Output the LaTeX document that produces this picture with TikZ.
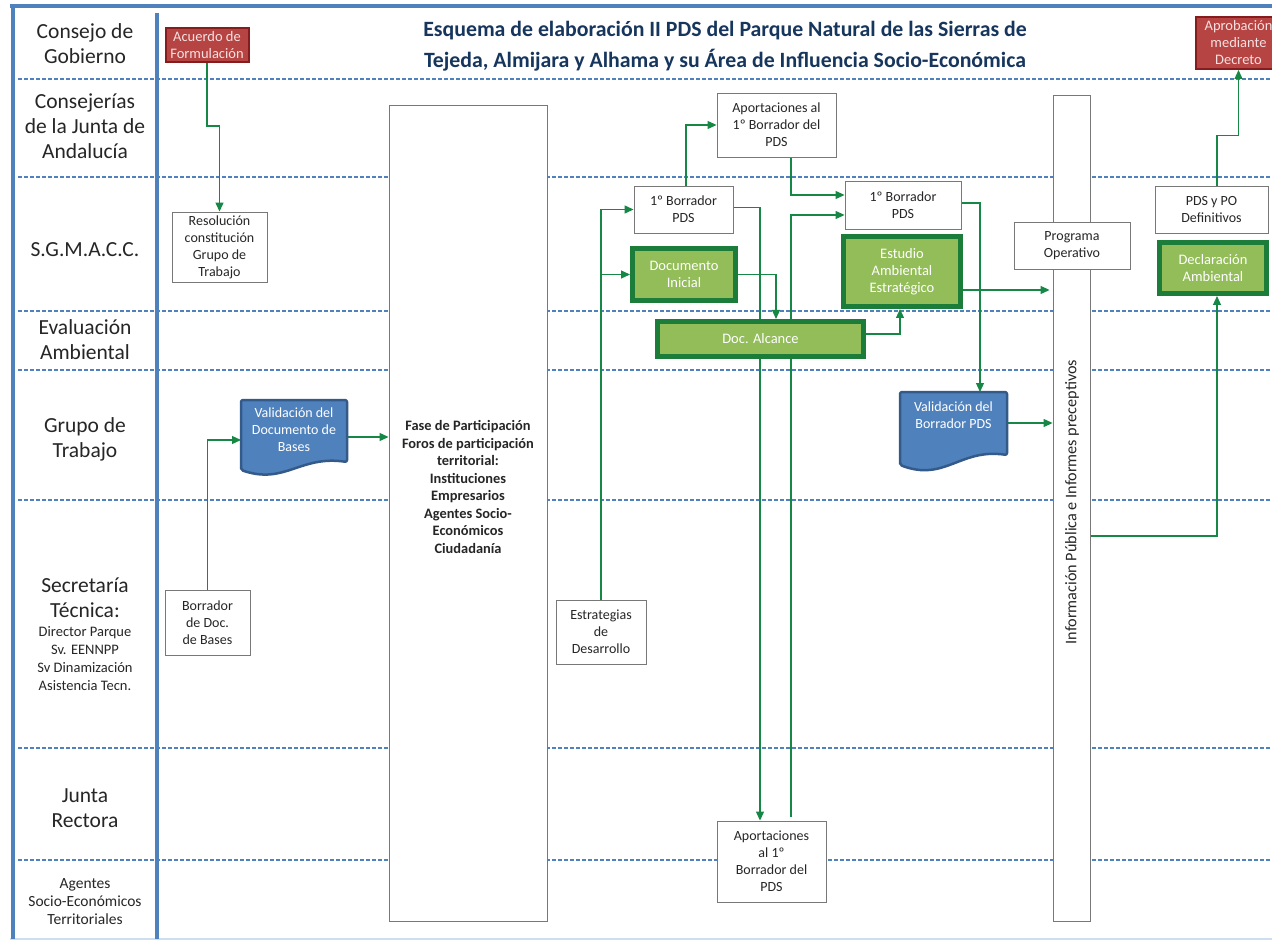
\documentclass[tikz,border=0pt]{standalone}
\usepackage{fontspec}
\setmainfont{Carlito}
\usetikzlibrary{arrows.meta,calc}
\pgfdeclarelayer{bg}\pgfdeclarelayer{lines}\pgfdeclarelayer{docs}
\pgfsetlayers{bg,lines,docs,main}
\definecolor{laneblue}{RGB}{79,129,189}
\definecolor{lightblue}{RGB}{205,222,240}
\definecolor{boxgray}{RGB}{120,120,120}
\definecolor{txtgray}{RGB}{38,38,38}
\definecolor{lgreen}{RGB}{22,135,68}
\definecolor{gborder}{RGB}{28,125,58}
\definecolor{gfill}{RGB}{146,189,88}
\definecolor{rfill}{RGB}{182,68,66}
\definecolor{rborder}{RGB}{135,28,30}
\definecolor{rtext}{RGB}{245,225,225}
\definecolor{docfill}{RGB}{79,129,189}
\definecolor{docborder}{RGB}{52,90,138}
\definecolor{titlecol}{RGB}{23,54,93}
\begin{document}
\begin{tikzpicture}[x=1pt,y=-1pt,
  box/.style={draw=boxgray, fill=white, line width=0.9pt, align=center, text=txtgray,
    font=\fontsize{14}{17}\selectfont, inner sep=2pt},
  greenbox/.style={draw=gborder, fill=gfill, line width=5pt, align=center, text=white,
    font=\fontsize{14.5}{17}\selectfont, inner sep=1pt},
  redbox/.style={draw=rborder, fill=rfill, line width=2pt, align=center, text=rtext,
    font=\fontsize{14.5}{17}\selectfont, inner sep=1pt},
  doctxt/.style={align=center, text=white, font=\fontsize{14}{17}\selectfont},
  docshape/.style={draw=docborder, fill=docfill, line width=2.5pt, rounded corners=2pt, line join=round},
  conn/.style={draw=lgreen, line width=1.2pt, -{Triangle[length=9pt,width=8pt]}},
  lane/.style={align=center, text=txtgray, font=\fontsize{21.5}{25}\selectfont},
  lanesmall/.style={align=center, text=txtgray, font=\fontsize{14.5}{18}\selectfont},
  dashl/.style={draw=laneblue, line width=1.2pt, dash pattern=on 4pt off 2pt},
  frame/.style={draw=laneblue, line width=4pt},
  titlestyle/.style={align=center, text=titlecol, font=\fontsize{21.8}{31}\selectfont\bfseries}
]
\useasboundingbox (0,0) rectangle (1272,941);

\begin{pgfonlayer}{bg}
  \fill[white] (0,0) rectangle (1272,941);
  \foreach \yy in {79,177,311,370,500,748,860}
    \draw[dashl] (18,\yy) -- (1272,\yy);
  \draw[draw=lightblue, line width=2pt] (10,939) -- (1272,939);
  \draw[frame] (10,6) -- (1272,6);
  \draw[frame] (13,4) -- (13,939);
  \draw[frame] (157,13) -- (157,939);
\end{pgfonlayer}

% lane labels
\node[lane] (l1) at (85,44) {Consejo de\\Gobierno};
\node[lane] (l2) at (85,126) {Consejerías\\de la Junta de\\Andalucía};
\node[lane] (l3) at (85,250) {S.G.M.A.C.C.};
\node[lane] (l4) at (85,340) {Evaluación\\Ambiental};
\node[lane] (l5) at (85,439) {Grupo de\\Trabajo};
\node[lane] (l6) at (85,598) {Secretaría\\Técnica:};
\node[lanesmall] (l6b) at (85,659) {Director Parque\\Sv. EENNPP\\Sv Dinamización\\Asistencia Tecn.};
\node[lane] (l7) at (85,808) {Junta\\Rectora};
\node[lanesmall, font=\fontsize{15.5}{18}\selectfont] (l8) at (85,902) {Agentes\\Socio-Económicos\\Territoriales};

% title
\node[titlestyle] (title) at (725,46) {Esquema de elaboración II PDS del Parque Natural de las Sierras de\\Tejeda, Almijara y Alhama y su Área de Influencia Socio-Económica};

% tall boxes
\node[box, minimum width=158pt, minimum height=816pt] (fase) at (468,513) {};
\node[align=center, text=txtgray, font=\fontsize{14.4}{17.5}\selectfont\bfseries] (fasetxt) at (468,487)
  {Fase de Participación\\Foros de participación\\territorial:\\Instituciones\\Empresarios\\Agentes Socio-\\Económicos\\Ciudadanía};
\node[box, minimum width=37pt, minimum height=826pt] (info) at (1071.5,508) {};
\node[rotate=90, text=txtgray, font=\fontsize{16.2}{18}\selectfont] (infotxt) at (1072,502) {Información Pública e Informes preceptivos};

% red boxes
\node[redbox, minimum width=83pt, minimum height=34pt] (acuerdo) at (207,45) {Acuerdo de\\Formulación};
\node[redbox, minimum width=85pt, minimum height=52pt] (aprob) at (1238.5,43) {Aprobación\\mediante\\Decreto};

% white boxes
\node[box, minimum width=95pt, minimum height=70pt] (res) at (219.5,247) {Resolución\\constitución\\Grupo de\\Trabajo};
\node[box, minimum width=85pt, minimum height=65pt] (bordoc) at (207.5,622.5) {Borrador\\de Doc.\\de Bases};
\node[box, minimum width=90pt, minimum height=64pt] (estr) at (601,632) {Estrategias\\de\\Desarrollo};
\node[box, minimum width=99pt, minimum height=47pt] (b1) at (683.5,209.5) {1º Borrador\\PDS};
\node[box, minimum width=116pt, minimum height=48pt] (b2) at (903,205) {1º Borrador\\PDS};
\node[box, minimum width=119pt, minimum height=64pt] (ap1) at (776.5,125) {Aportaciones al\\1º Borrador del\\PDS};
\node[box, minimum width=109pt, minimum height=81pt] (ap2) at (771.5,861.5) {Aportaciones\\al 1º\\Borrador del\\PDS};
\node[box, minimum width=116pt, minimum height=47pt] (prog) at (1072,245.5) {Programa\\Operativo};
\node[box, minimum width=113pt, minimum height=47pt] (pdsdef) at (1211.5,209.5) {PDS y PO\\Definitivos};

% green boxes
\node[greenbox, minimum width=103pt, minimum height=52pt] (docini) at (684,274.5) {Documento\\Inicial};
\node[greenbox, minimum width=206pt, minimum height=35pt] (alc) at (760.5,339) {Doc. Alcance};
\node[greenbox, minimum width=117pt, minimum height=70pt] (eae) at (902,271.5) {Estudio\\Ambiental\\Estratégico};
\node[greenbox, minimum width=107pt, minimum height=51pt] (decl) at (1213,268) {Declaración\\Ambiental};

% document shapes
\coordinate (vd-w) at (241,440);
\coordinate (vd-e) at (347,437);
\coordinate (vb-n) at (980,392);
\coordinate (vb-e) at (1007,423);
\begin{pgfonlayer}{docs}
  \draw[docshape] (241,470) -- (241,400) -- (347,400) -- (347,462)
     .. controls (300,455) and (285,485) .. (241,470) -- cycle;
  \draw[docshape] (900,465) -- (900,392) -- (1007,392) -- (1007,455)
     .. controls (960,448) and (945,482) .. (900,465) -- cycle;
\end{pgfonlayer}
\node[doctxt] (valdoc) at (294,430) {Validación del\\Documento de\\Bases};
\node[doctxt] (valb) at (953.5,415) {Validación del\\Borrador PDS};

% connectors
\begin{pgfonlayer}{lines}
  \draw[conn] (acuerdo.south) -- ++(0,63) -| (res.north);
  \draw[conn] (bordoc.north) |- (vd-w);
  \draw[conn] (vd-e) -- (vd-e -| fase.west);
  \draw[conn] (estr.north) |- (b1.west);
  \draw[conn] (estr.north) |- (docini.west);
  \draw[conn] ([xshift=2.5pt]b1.north) |- (ap1.west);
  \draw[conn] ([xshift=14.5pt]ap1.south) |- ([yshift=10pt]b2.west);
  \draw[conn] ([yshift=2pt]b1.east) -| ([xshift=-11.5pt]ap2.north);
  \draw[conn] ([xshift=19.5pt,yshift=4pt]ap2.north) |- ([yshift=-10pt]b2.west);
  \draw[conn] (docini.east) -| ([xshift=15.5pt]alc.north);
  \draw[conn] ([yshift=5pt]alc.east) -| ([xshift=-2pt]eae.south);
  \draw[conn] ([yshift=2pt]b2.east) -| (vb-n);
  \draw[conn] (vb-e) -- (vb-e -| info.west);
  \draw[conn] ([yshift=-18.5pt]eae.east) -- ([yshift=-18.5pt,xshift=-3pt]eae.east -| info.west);
  \draw[conn] ([yshift=-28pt]info.east) -| ([xshift=4pt]decl.south);
  \draw[conn] ([xshift=5.5pt]pdsdef.north) -- ++(0,-50) -| (aprob.south);
\end{pgfonlayer}
\end{tikzpicture}
\end{document}
